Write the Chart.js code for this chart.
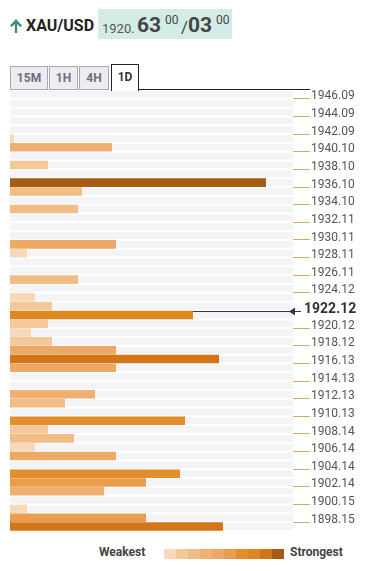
<!DOCTYPE html>
<html>
<head>
<meta charset="utf-8">
<script src="https://cdn.jsdelivr.net/npm/chart.js@4.4.0/dist/chart.umd.min.js"></script>
<style>
html,body{margin:0;padding:0;background:#fff;width:367px;height:571px;overflow:hidden;font-family:Roboto,"Noto Sans",sans-serif;}
.abs{position:absolute;white-space:nowrap;}
#sym{left:26px;top:16px;font-size:16px;font-weight:bold;color:#222;line-height:20px;}
#box{left:98px;top:9px;width:134px;height:30px;background:#d4ece6;}
.q{line-height:1;color:#454545;}
.tab{position:absolute;box-sizing:border-box;border:1px solid #a9a9b3;background:#ececf1;color:#70707a;font-weight:bold;font-size:12px;text-align:center;line-height:22px;top:66px;height:24px;}
#tab1d{top:64px;height:27px;background:#fff;border:1px solid #222;border-bottom:none;color:#333;line-height:25px;}
#tabline{left:138px;top:89px;width:172px;height:1px;background:#222;}
#wrap{position:absolute;left:0;top:80px;width:367px;height:461px;}
.leg{font-size:12px;font-weight:bold;color:#444;line-height:14px;top:545px;}
#grad{left:164px;top:549px;width:120px;height:10px;display:flex;}
#grad div{flex:1;height:10px;}
</style>
</head>
<body>
<svg class="abs" style="left:9px;top:18px" width="14" height="16" viewBox="0 0 14 16">
  <path d="M7 1 L13 7.5 L11.3 9.1 L8.2 6 L8.2 15 L5.8 15 L5.8 6 L2.7 9.1 L1 7.5 Z" fill="#3f8f7b"/>
</svg>
<div id="sym" class="abs">XAU/USD</div>
<div id="box" class="abs"></div>
<div id="quote"></div>

<div class="tab" style="left:10px;width:38px;">15M</div>
<div class="tab" style="left:49px;width:29px;">1H</div>
<div class="tab" style="left:79px;width:30px;">4H</div>
<div class="tab" id="tab1d" style="left:111px;width:28px;">1D</div>
<div id="tabline" class="abs"></div>

<div id="wrap"><canvas id="c"></canvas></div>

<div class="abs leg" style="left:99px;">Weakest</div>
<div id="grad" class="abs"></div>
<div class="abs leg" style="left:290px;">Strongest</div>

<script>
// ---- data ----
const symbol = 'XAU/USD';
const bidBig = '63', bidPrefix = '1920.', bidPip = '00';
const askBig = '03', askPip = '00';
const currentPrice = '1922.12';

const priceLevels = [
  '1946.09','1945.09','1944.09','1943.09','1942.09','1941.09','1940.10','1939.10',
  '1938.10','1937.10','1936.10','1935.10','1934.10','1933.10','1932.11','1931.11',
  '1930.11','1929.11','1928.11','1927.11','1926.11','1925.12','1924.12','1923.12',
  '1922.12','1921.12','1920.12','1919.12','1918.12','1917.13','1916.13','1915.13',
  '1914.13','1913.13','1912.13','1911.13','1910.13','1909.14','1908.14','1907.14',
  '1906.14','1905.14','1904.14','1903.14','1902.14','1901.15','1900.15','1899.15',
  '1898.15','1897.15'
];
const strength = [
  0, 0, 0, 0, 0, 4, 102, 0,
  38, 0, 256, 72, 0, 68, 0, 0,
  0, 106, 17, 0, 0, 68, 0, 25,
  42, 183, 38, 21, 42, 106, 209, 106,
  0, 0, 85, 55, 0, 175, 38, 64,
  25, 106, 0, 170, 136, 94, 0, 17,
  136, 213
];
const timeframes = ['15M','1H','4H','1D'];

// ---- style ----
const palette = ['#f7d8b8','#f3c99c','#f1bd86','#efb172','#eda866','#eb9d4f','#e38d2c','#df8720','#d27617','#a65c12'];
const maxStrength = Math.max(...strength);
function colorFor(v){
  const lvl = Math.min(palette.length-1, Math.floor(v/maxStrength*palette.length));
  return palette[lvl];
}
const curIdx = priceLevels.indexOf(currentPrice);

// header quote
(function(){
  const q = document.getElementById('quote');
  const parts = [
    {t:bidPrefix, left:102, top:21.6, size:13, w:'normal', c:'#555'},
    {t:bidBig, left:137, top:15, size:21, w:'bold'},
    {t:bidPip, left:165, top:14, size:12, w:'normal'},
    {t:'/', left:181, top:18.5, size:17, w:'normal'},
    {t:askBig, left:188, top:15, size:21, w:'bold'},
    {t:askPip, left:216, top:14, size:12, w:'normal'}
  ];
  parts.forEach(p=>{
    const s=document.createElement('div');
    s.className='abs q'; s.textContent=p.t;
    s.style.left=p.left+'px'; s.style.top=p.top+'px';
    s.style.fontSize=p.size+'px'; s.style.fontWeight=p.w;
    if(p.c) s.style.color=p.c;
    q.appendChild(s);
  });
  const g=document.getElementById('grad');
  palette.forEach(c=>{const d=document.createElement('div');d.style.background=c;g.appendChild(d);});
})();

const TICK_COLOR = '#d3aa6a';
const MARK_COLOR = '#2b3a4f';

const bgPlugin = {
  id:'rows',
  beforeDatasetsDraw(chart){
    const {ctx, chartArea:a, scales:{y}} = chart;
    const h = (a.bottom - a.top)/priceLevels.length;
    ctx.save();
    ctx.fillStyle = '#f4f4f7';
    for(let i=0;i<priceLevels.length;i++){
      const yc = y.getPixelForValue(i);
      ctx.fillRect(a.left, yc - h/2 + 1, a.right - a.left, h - 2);
    }
    // current price line (drawn under bars)
    const ly = Math.round(y.getPixelForValue(curIdx) + h/2) + 0.5;
    ctx.strokeStyle = MARK_COLOR; ctx.lineWidth = 1;
    ctx.beginPath(); ctx.moveTo(a.left, ly); ctx.lineTo(a.right, ly); ctx.stroke();
    ctx.restore();
  },
  afterDatasetsDraw(chart){
    const {ctx, chartArea:a, scales:{y}} = chart;
    const h = (a.bottom - a.top)/priceLevels.length;
    const ly = Math.round(y.getPixelForValue(curIdx) + h/2) + 0.5;
    ctx.save();
    ctx.fillStyle = MARK_COLOR; ctx.strokeStyle = MARK_COLOR;
    ctx.beginPath();
    ctx.moveTo(a.right - 4, ly); ctx.lineTo(a.right + 2, ly - 4); ctx.lineTo(a.right + 2, ly + 4); ctx.closePath(); ctx.fill();
    ctx.beginPath(); ctx.moveTo(a.right, ly); ctx.lineTo(a.right + 8, ly); ctx.stroke();
    ctx.font = 'bold 14px Roboto';
    ctx.fillStyle = '#333';
    ctx.textBaseline = 'alphabetic';
    ctx.fillText(currentPrice, a.right + 11, ly + 1);
    ctx.restore();
  }
};

new Chart(document.getElementById('c'), {
  type:'bar',
  data:{
    labels: priceLevels,
    datasets:[{
      data: strength,
      backgroundColor: strength.map(colorFor),
      borderWidth:0,
      barPercentage:1,
      categoryPercentage:0.97
    }]
  },
  options:{
    indexAxis:'y',
    responsive:true,
    maintainAspectRatio:false,
    animation:false,
    events:[],
    layout:{padding:{left:10,right:0,top:10,bottom:10}},
    plugins:{legend:{display:false},tooltip:{enabled:false}},
    scales:{
      x:{display:false, min:0, max:283},
      y:{
        position:'right',
        offset:true,
        border:{display:false},
        grid:{
          offset:true,
          drawOnChartArea:false,
          tickLength:17,
          lineWidth:1,
          color:(ctx)=> (ctx.index % 2 === 1 && ctx.index !== curIdx + 1) ? TICK_COLOR : 'rgba(0,0,0,0)'
        },
        ticks:{
          autoSkip:false,
          padding:1,
          labelOffset:2,
          color:'#555',
          font:{family:'Roboto', size:12},
          callback:(v,i)=> (i % 2 === 0 && i !== curIdx) ? priceLevels[i] : ''
        },
        afterFit:(s)=>{ s.width = 74; }
      }
    }
  },
  plugins:[bgPlugin]
});
</script>
</body>
</html>
